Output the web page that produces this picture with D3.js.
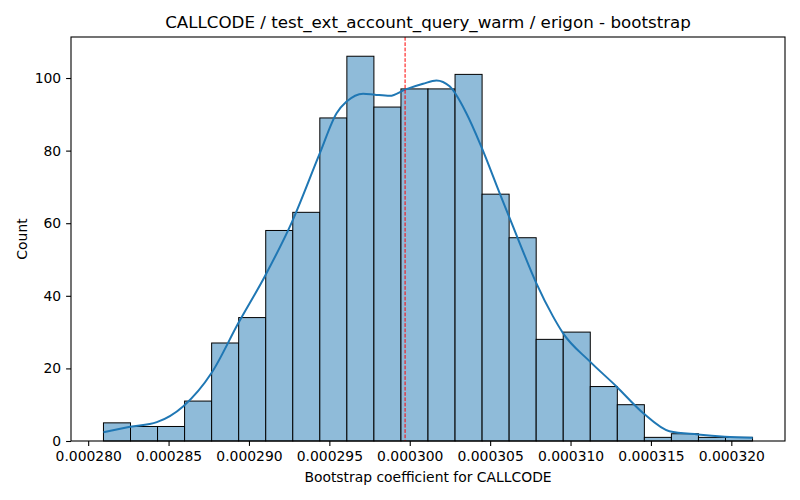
<!DOCTYPE html>
<html>
<head>
<meta charset="utf-8">
<script src="https://cdn.jsdelivr.net/npm/d3@7"></script>
<style>
  body { margin: 0; background: #fff; }
  text { font-family: "DejaVu Sans", sans-serif; fill: #000; }
</style>
</head>
<body>
<script>
// histogram counts, 24 equal bins between binLo and binHi
const binLo = 0.00028095, binHi = 0.00032132;
const counts = [5, 4, 4, 11, 27, 34, 58, 63, 89, 106, 92, 97, 97, 101, 68, 56, 28, 30, 15, 10, 1, 2, 1, 1];

// kde curve (x value, scaled count)
const kdeX = [0.00028095, 0.00028261, 0.00028427, 0.00028592, 0.00028768, 0.00028934, 0.00029099,
  0.00029265, 0.00029441, 0.00029545, 0.00029607, 0.00029710, 0.00029783, 0.00029876, 0.00029971,
  0.00030083, 0.00030166, 0.00030248, 0.00030352, 0.00030445, 0.00030559, 0.00030617, 0.00030683,
  0.00030787, 0.00030890, 0.00030952, 0.00031118, 0.00031284, 0.00031449, 0.00031615, 0.00031791,
  0.00031960, 0.00032133];
const kdeY = [2.4, 3.9, 5.2, 9.6, 18.8, 32.5, 45.4, 60.1, 79.3, 90.3, 93.5, 95.7, 95.4, 95.1, 96.8,
  98.4, 99.3, 97.7, 90.3, 81.1, 68.3, 61.9, 54.6, 43.5, 34.4, 29.8, 22.0, 15.1, 7.8, 2.7, 1.8, 1.2, 0.9];

const meanLine = 0.00029971;
const xTicks = [0.000280, 0.000285, 0.000290, 0.000295, 0.000300, 0.000305, 0.000310, 0.000315, 0.000320];
const yTicks = [0, 20, 40, 60, 80, 100];

const title = "CALLCODE / test_ext_account_query_warm / erigon - bootstrap";
const xLabel = "Bootstrap coefficient for CALLCODE";
const yLabel = "Count";

const W = 800, H = 500;
const margin = {top: 37, right: 15, bottom: 59, left: 71};
const width = W - margin.left - margin.right,
      height = H - margin.top - margin.bottom;

const svg = d3.select("body").append("svg")
    .attr("width", W)
    .attr("height", H);

const g = svg.append("g")
    .attr("transform", `translate(${margin.left},${margin.top})`);

const span = binHi - binLo;
const x = d3.scaleLinear()
    .domain([binLo - span * 0.05, binHi + span * 0.05])
    .range([0, width]);

const y = d3.scaleLinear()
    .domain([0, d3.max(counts) * 1.05])
    .range([height, 0]);

const binW = span / counts.length;
const bins = counts.map((c, i) => ({x0: binLo + i * binW, x1: binLo + (i + 1) * binW, c}));

g.selectAll("rect.bar")
    .data(bins)
    .enter().append("rect")
    .attr("class", "bar")
    .attr("x", d => x(d.x0))
    .attr("y", d => y(d.c))
    .attr("width", d => x(d.x1) - x(d.x0))
    .attr("height", d => y(0) - y(d.c))
    .attr("fill", "#8fbbd9")
    .attr("stroke", "#000")
    .attr("stroke-width", 1);

const line = d3.line()
    .x((d, i) => x(kdeX[i]))
    .y(d => y(d))
    .curve(d3.curveMonotoneX);

g.append("path")
    .datum(kdeY)
    .attr("fill", "none")
    .attr("stroke", "#1f77b4")
    .attr("stroke-width", 2)
    .attr("d", line);

g.append("line")
    .attr("x1", x(meanLine)).attr("x2", x(meanLine))
    .attr("y1", 0).attr("y2", height)
    .attr("stroke", "#ff0000")
    .attr("stroke-width", 1)
    .attr("stroke-dasharray", "3.7,1.6");

const xAxis = g.append("g")
    .attr("transform", `translate(0,${height})`)
    .call(d3.axisBottom(x).tickValues(xTicks).tickFormat(d => d.toFixed(6)).tickSize(4.9).tickPadding(4.9));

const yAxis = g.append("g")
    .call(d3.axisLeft(y).tickValues(yTicks).tickSize(4.9).tickPadding(4.9));

[xAxis, yAxis].forEach(a => {
  a.selectAll("text").style("font-size", "13.9px").style("font-family", "DejaVu Sans, sans-serif");
  a.selectAll("line").attr("stroke-width", 1.1);
  a.select(".domain").remove();
});

// frame
g.append("rect")
    .attr("width", width)
    .attr("height", height)
    .attr("fill", "none")
    .attr("stroke", "#000")
    .attr("stroke-width", 1.1);

svg.append("text")
    .attr("x", margin.left + width / 2)
    .attr("y", 28)
    .attr("text-anchor", "middle")
    .style("font-size", "16.7px")
    .text(title);

svg.append("text")
    .attr("x", margin.left + width / 2)
    .attr("y", 482)
    .attr("text-anchor", "middle")
    .style("font-size", "13.9px")
    .text(xLabel);

svg.append("text")
    .attr("transform", `translate(27,${margin.top + height / 2}) rotate(-90)`)
    .attr("text-anchor", "middle")
    .style("font-size", "13.9px")
    .text(yLabel);
</script>
</body>
</html>
